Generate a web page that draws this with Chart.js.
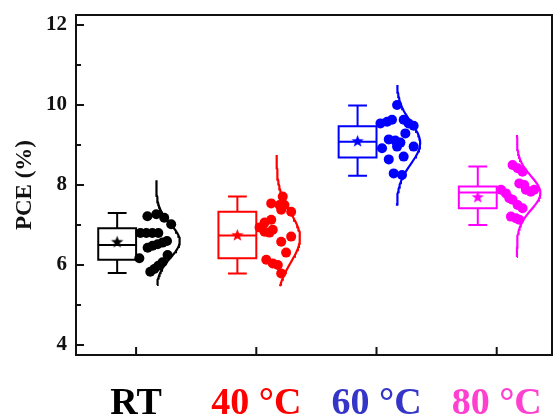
<!DOCTYPE html>
<html><head><meta charset="utf-8">
<script src="https://cdn.jsdelivr.net/npm/chart.js@4/dist/chart.umd.min.js"></script>
<style>html,body{margin:0;padding:0;background:#fff;}#wrap{width:559px;height:418px;}</style>
</head><body><div id="wrap"><canvas id="c" width="559" height="418"></canvas></div>
<script>
// ---- data ----
const categories = ['RT', '40 °C', '60 °C', '80 °C'];
const categoryPos = [1, 2, 3, 4];
const colors = ['#000000', '#FF0000', '#0000FF', '#FF00FF'];
const labelColors = ['#000000', '#FF0000', '#3535C8', '#FF3FD0'];
const yTicks = [4, 6, 8, 10, 12];
const yMinorTicks = [5, 7, 9, 11];

// box statistics
const boxMin    = [5.80, 5.79, 8.23, 7.00];
const boxQ1     = [6.13, 6.17, 8.69, 7.42];
const boxMedian = [6.50, 6.74, 9.08, 7.81];
const boxQ3     = [6.92, 7.33, 9.47, 7.96];
const boxMax    = [7.30, 7.71, 9.99, 8.46];
const boxMean   = [6.57, 6.74, 9.09, 7.69];

// individual devices (PCE values and their spread position on the x axis)
const rtY  = [7.22, 7.27, 7.18, 7.02, 6.80, 6.80, 6.80, 6.80, 6.43, 6.48, 6.52, 6.56, 6.60, 6.17, 6.25, 5.83, 5.90, 5.98, 6.07];
const rtX  = [1.094,1.168,1.234,1.292,1.036,1.085,1.135,1.185,1.096,1.137,1.179,1.220,1.257,1.027,1.262,1.118,1.151,1.185,1.220];
const c40Y = [7.71, 7.54, 7.50, 7.50, 7.38, 7.33, 7.13, 7.06, 6.94, 6.88, 6.83, 6.81, 6.71, 6.58, 6.31, 6.13, 6.04, 6.00, 5.79];
const c40X = [2.220,2.124,2.193,2.234,2.207,2.290,2.124,2.069,2.027,2.137,2.069,2.110,2.290,2.207,2.248,2.083,2.137,2.179,2.207];
const c60Y = [10.00, 9.54, 9.58, 9.63, 9.63, 9.54, 9.48, 9.29, 9.14, 9.11, 9.06, 8.92, 8.96, 8.96, 8.64, 8.71, 8.29, 8.25];
const c60X = [3.171,3.033,3.088,3.129,3.226,3.267,3.309,3.240,3.102,3.157,3.199,3.046,3.171,3.309,3.102,3.226,3.143,3.212];
const c80Y = [8.50, 8.42, 8.33, 8.04, 8.00, 7.88, 7.83, 7.88, 7.88, 7.79, 7.67, 7.63, 7.50, 7.42, 7.21, 7.17, 7.13];
const c80X = [4.132,4.174,4.215,4.188,4.229,4.243,4.284,4.312,4.036,4.077,4.105,4.132,4.174,4.215,4.118,4.160,4.188];

// fitted normal distribution curves
const curveMean = [6.60, 6.68, 9.05, 7.80];
const curveSD   = [0.42, 0.62, 0.52, 0.42];
const curveLow  = [5.50, 5.47, 7.48, 6.20];
const curveHigh = [8.12, 8.75, 10.50, 9.25];

// ---- layout (axis units) ----
const BOX_L = -0.315, BOX_R = 0.0, CAP = 0.07, CURVE_BASE = 0.168, CURVE_AMP = 0.195;

const pointsY = [rtY, c40Y, c60Y, c80Y];
const pointsX = [rtX, c40X, c60X, c80X];

function makeStar(color, r) {
  const s = Math.ceil(r * 2 + 2);
  const c = document.createElement('canvas');
  c.width = s; c.height = s;
  const g = c.getContext('2d');
  g.fillStyle = color;
  g.beginPath();
  for (let i = 0; i < 10; i++) {
    const a = -Math.PI / 2 + i * Math.PI / 5;
    const rr = i % 2 ? r * 0.42 : r;
    g.lineTo(s / 2 + rr * Math.cos(a), s / 2 + rr * Math.sin(a));
  }
  g.closePath(); g.fill();
  return c;
}

const datasets = [];
categoryPos.forEach((c, i) => {
  const L = c + BOX_L, R = c + BOX_R, C = (L + R) / 2;
  const gap = {x: C, y: null};
  datasets.push({
    data: [
      {x: L, y: boxQ1[i]}, {x: R, y: boxQ1[i]}, {x: R, y: boxQ3[i]}, {x: L, y: boxQ3[i]}, {x: L, y: boxQ1[i]}, gap,
      {x: L, y: boxMedian[i]}, {x: R, y: boxMedian[i]}, gap,
      {x: C, y: boxQ3[i]}, {x: C, y: boxMax[i]}, gap,
      {x: C - CAP, y: boxMax[i]}, {x: C + CAP, y: boxMax[i]}, gap,
      {x: C, y: boxQ1[i]}, {x: C, y: boxMin[i]}, gap,
      {x: C - CAP, y: boxMin[i]}, {x: C + CAP, y: boxMin[i]}
    ],
    showLine: true, spanGaps: false, borderColor: colors[i], borderWidth: 2,
    pointRadius: 0, fill: false, borderJoinStyle: 'miter', borderCapStyle: 'square', order: 3
  });
  datasets.push({
    data: [{x: C, y: boxMean[i]}],
    pointStyle: makeStar(colors[i], 6.5), pointRadius: 6, order: 2, showLine: false
  });
  datasets.push({
    data: pointsY[i].map((v, k) => ({x: pointsX[i][k], y: v})),
    pointRadius: 5, backgroundColor: colors[i], borderWidth: 0, showLine: false, order: 1
  });
  const curve = [];
  const n = 80;
  for (let k = 0; k <= n; k++) {
    const y = curveLow[i] + (curveHigh[i] - curveLow[i]) * k / n;
    const z = (y - curveMean[i]) / curveSD[i];
    curve.push({x: c + CURVE_BASE + CURVE_AMP * Math.exp(-0.5 * z * z), y: y});
  }
  datasets.push({
    data: curve, showLine: true, borderColor: colors[i], borderWidth: 2.2,
    pointRadius: 0, fill: false, tension: 0, order: 0
  });
});

const frame = {
  id: 'frame',
  afterDatasetsDraw(chart) {
    const {ctx, chartArea: a, scales: {x, y}} = chart;
    ctx.save();
    ctx.strokeStyle = '#111';
    ctx.lineWidth = 2;
    ctx.strokeRect(a.left, a.top, a.right - a.left, a.bottom - a.top);
    ctx.beginPath();
    yTicks.forEach(v => { const p = y.getPixelForValue(v); ctx.moveTo(a.left, p); ctx.lineTo(a.left + 8, p); });
    yMinorTicks.forEach(v => { const p = y.getPixelForValue(v); ctx.moveTo(a.left, p); ctx.lineTo(a.left + 5, p); });
    categoryPos.forEach(v => { const p = x.getPixelForValue(v); ctx.moveTo(p, a.bottom); ctx.lineTo(p, a.bottom - 8); });
    ctx.stroke();
    ctx.restore();
  }
};

new Chart(document.getElementById('c'), {
  type: 'scatter',
  data: {datasets},
  options: {
    responsive: false, animation: false, devicePixelRatio: 1,
    layout: {padding: {top: 15, right: 4, left: 0, bottom: 0}},
    plugins: {legend: {display: false}, tooltip: {enabled: false}},
    scales: {
      x: {
        type: 'linear', min: 0.5, max: 4.46,
        afterBuildTicks: s => { s.ticks = categoryPos.map(v => ({value: v})); },
        afterFit: s => { s.height = 63; s.paddingLeft = 0; s.paddingRight = 0; },
        grid: {display: false, drawTicks: false}, border: {display: false},
        ticks: {
          autoSkip: false, maxRotation: 0, padding: 26,
          callback: v => categories[categoryPos.indexOf(v)],
          color: ctx => labelColors[ctx.index],
          font: {family: 'Liberation Serif', size: 38, weight: 'bold'}
        }
      },
      y: {
        type: 'linear', min: 3.75, max: 12.25,
        afterBuildTicks: s => { s.ticks = yTicks.map(v => ({value: v})); },
        afterFit: s => { s.width = 76; s.paddingTop = 0; s.paddingBottom = 0; },
        grid: {display: false, drawTicks: false}, border: {display: false},
        ticks: {padding: 9, color: '#111', font: {family: 'Liberation Serif', size: 21, weight: 'bold'}},
        title: {display: true, text: 'PCE (%)', color: '#111', padding: {top: 11, bottom: 0},
          font: {family: 'Liberation Serif', size: 23, weight: 'bold'}}
      }
    }
  },
  plugins: [frame]
});
</script></body></html>
